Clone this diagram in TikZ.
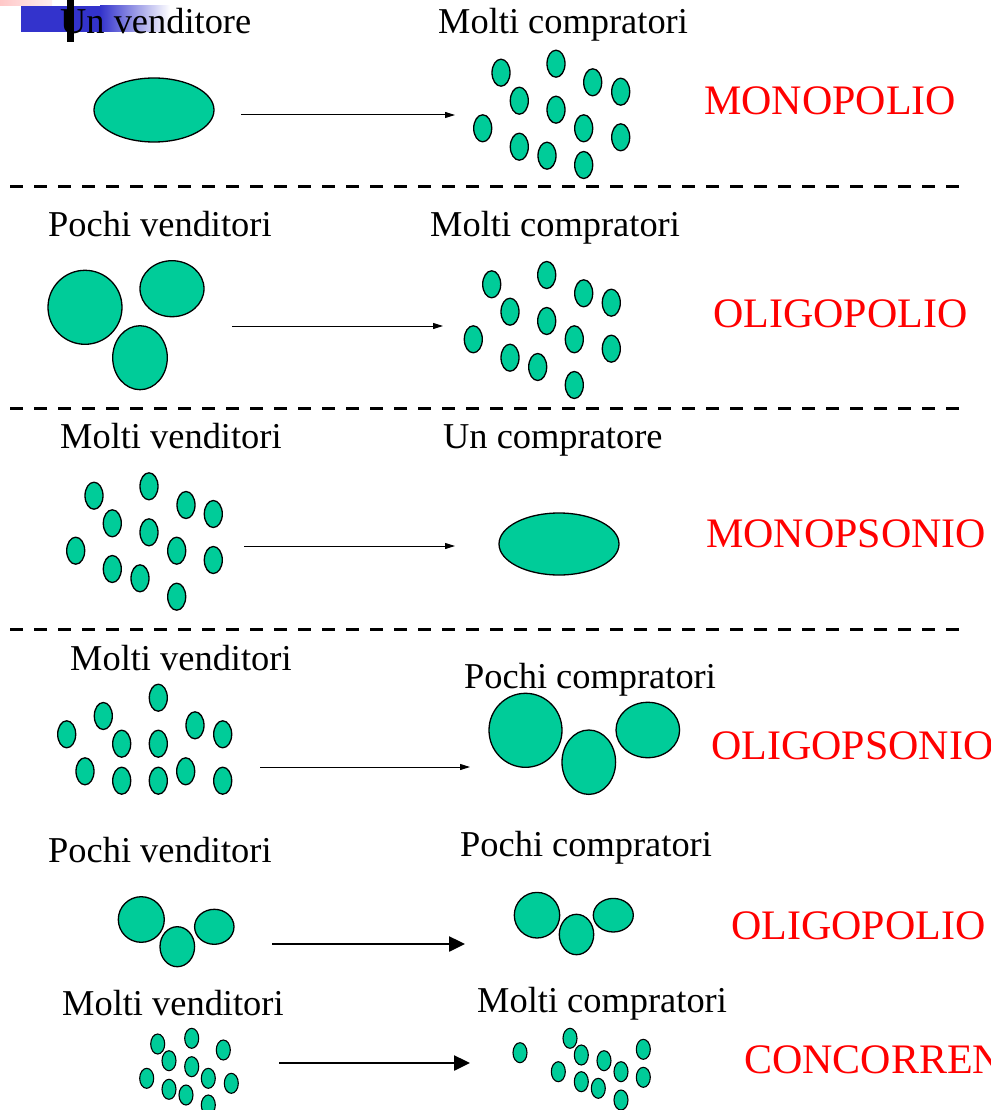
\documentclass[tikz,border=0pt]{standalone}
\usepackage{fontspec}
\setmainfont{Liberation Serif}
\usetikzlibrary{shapes.geometric,arrows.meta}
\definecolor{teal1}{RGB}{0,204,153}
\definecolor{deco}{RGB}{51,51,204}
\definecolor{pinkdeco}{RGB}{255,200,200}
\tikzset{
  blob/.style={ellipse,draw=black,line width=1.3pt,fill=teal1,inner sep=0pt,outer sep=0pt},
  dot/.style={blob,minimum width=18pt,minimum height=27pt},
  sdot/.style={blob,line width=1.1pt,minimum width=14pt,minimum height=20pt},
  lbl/.style={anchor=base west,inner sep=0pt,font=\fontsize{36.4}{40}\selectfont},
  kind/.style={anchor=base west,inner sep=0pt,text=red,font=\fontsize{42}{46}\selectfont},
  thinarrow/.style={line width=1pt,-{Triangle[length=10pt,width=6pt]}},
  thickarrow/.style={line width=2.5pt,-{Triangle[length=16pt,width=15pt]}},
  sep/.style={line width=3pt,dash pattern=on 13pt off 11pt}
}
\begin{document}
\begin{tikzpicture}[x=1pt,y=-1pt]
\useasboundingbox (0,0) rectangle (990,1110);
\clip (0,0) rectangle (990,1110);
% decoration
\shade[left color=pinkdeco,right color=pinkdeco!30] (0,0) rectangle (52,6);
\fill[deco] (21,6) rectangle (100,32);
\shade[left color=deco,right color=white] (100,6) rectangle (170,32);
\fill[black] (67,0) rectangle (74,42);

% ---------- Row 1
\node[lbl] (l1) at (60,34) {Un venditore};
\node[lbl] (r1) at (438,34) {Molti compratori};
\node[kind] (k1) at (704,115) {MONOPOLIO};
\node[blob,minimum width=120pt,minimum height=64pt] (s1) at (154,110) {};
\foreach \x/\y [count=\i] in {501/72.7,556/63.7,592.7/82.3,620.7/91.7,519.3/100.7,556/109.7,482.7/128.3,583.7/128.3,620.7/137.3,519.3/146.7,547/155.7,583.7/165}
  \node[dot] (b1\i) at (\x,\y) {};
\coordinate (a1s) at (241,115);
\coordinate (a1e) at (455,115);
\draw[thinarrow] (a1s) -- (a1e);
\coordinate (d1s) at (10,187);
\coordinate (d1e) at (968,187);
\draw[sep] (d1s) -- (d1e);

% ---------- Row 2
\node[lbl] (l2) at (48,236) {Pochi venditori};
\node[lbl] (r2) at (430,236) {Molti compratori};
\node[kind] (k2) at (713,327) {OLIGOPOLIO};
\node[blob,minimum width=74pt,minimum height=74pt] (s2a) at (85,307.3) {};
\node[blob,minimum width=64pt,minimum height=56pt] (s2b) at (172,288.7) {};
\node[blob,minimum width=54.6pt,minimum height=64pt] (s2c) at (140,357.7) {};
\foreach \x/\y [count=\i] in {491.7/284.3,546.7/275,583.7/293.3,611.3/302.7,510/311.7,546.7/321,473.3/339.3,574.3/339.3,611.3/348.7,510/357.7,537.7/367,574.3/385}
  \node[dot] (b2\i) at (\x,\y) {};
\coordinate (a2s) at (232,326);
\coordinate (a2e) at (443,326);
\draw[thinarrow] (a2s) -- (a2e);
\coordinate (d2s) at (10,408);
\coordinate (d2e) at (968,408);
\draw[sep] (d2s) -- (d2e);

% ---------- Row 3
\node[lbl] (l3) at (60,448) {Molti venditori};
\node[lbl] (r3) at (443,448) {Un compratore};
\node[kind] (k3) at (706,547) {MONOPSONIO};
\foreach \x/\y [count=\i] in {94/495.7,149/486.3,186/505,213.3/514,112.3/523.3,149/532.3,75.7/550.7,176.7/550.7,213.3/560,112.3/569,140/578.3,176.7/596.7}
  \node[dot] (s3\i) at (\x,\y) {};
\node[blob,minimum width=120pt,minimum height=62pt] (b3) at (559,544) {};
\coordinate (a3s) at (244,546);
\coordinate (a3e) at (455,546);
\draw[thinarrow] (a3s) -- (a3e);
\coordinate (d3s) at (10,629);
\coordinate (d3e) at (968,629);
\draw[sep] (d3s) -- (d3e);

% ---------- Row 4
\node[lbl] (l4) at (70,670) {Molti venditori};
\node[lbl] (r4) at (464,688) {Pochi compratori};
\node[kind] (k4) at (711,759) {OLIGOPSONIO};
\foreach \x/\y [count=\i] in {66.7/734.3,103.3/716,121.7/743.7,85/771.3,121.7/780.7,158.3/697.7,158.3/743.7,158.3/780.7,195/725.3,185.7/771.3,222.7/734.3,222.7/780.7}
  \node[dot] (s4\i) at (\x,\y) {};
\node[blob,minimum width=73pt,minimum height=74pt] (b4a) at (525.5,730.3) {};
\node[blob,minimum width=53.6pt,minimum height=64.4pt] (b4b) at (588.8,762.2) {};
\node[blob,minimum width=63.6pt,minimum height=55.4pt] (b4c) at (647.8,730) {};
\coordinate (a4s) at (260,767);
\coordinate (a4e) at (470,767);
\draw[thinarrow] (a4s) -- (a4e);

% ---------- Row 5
\node[lbl] (l5) at (48,862) {Pochi venditori};
\node[lbl] (r5) at (460,856) {Pochi compratori};
\node[kind] (k5) at (731,939) {OLIGOPOLIO};
\node[blob,minimum width=46pt,minimum height=45.6pt] (s5a) at (141.3,919.5) {};
\node[blob,minimum width=34.6pt,minimum height=40pt] (s5b) at (177.3,946.7) {};
\node[blob,minimum width=39.4pt,minimum height=35pt] (s5c) at (214.3,926.8) {};
\node[blob,minimum width=45.4pt,minimum height=45.6pt] (b5a) at (537,915.2) {};
\node[blob,minimum width=34.4pt,minimum height=40.4pt] (b5b) at (576.5,934.5) {};
\node[blob,minimum width=40pt,minimum height=33.6pt] (b5c) at (613.3,915.2) {};
\coordinate (a5s) at (272,944);
\coordinate (a5e) at (465,944);
\draw[thickarrow] (a5s) -- (a5e);

% ---------- Row 6
\node[lbl] (l6) at (62,1015) {Molti venditori};
\node[lbl] (r6) at (477,1012) {Molti compratori};
\node[kind] (k6) at (744,1073) {CONCORRENZA};
\foreach \x/\y [count=\i] in {157.7/1044,191.7/1038.3,223.3/1050,169/1060.7,191.7/1066.7,146.7/1078.3,208.3/1078.3,231.3/1083.3,169/1089.3,186/1095,208.3/1105}
  \node[sdot] (s6\i) at (\x,\y) {};
\foreach \x/\y [count=\i] in {520/1052.7,570/1038.3,581.3/1055,604/1060.7,558.3/1071.7,621/1071.7,643.3/1049.3,643.3/1077.3,581.3/1081.7,598.3/1088.3,621/1100}
  \node[sdot] (b6\i) at (\x,\y) {};
\coordinate (a6s) at (279,1063);
\coordinate (a6e) at (470,1063);
\draw[thickarrow] (a6s) -- (a6e);
\end{tikzpicture}
\end{document}
